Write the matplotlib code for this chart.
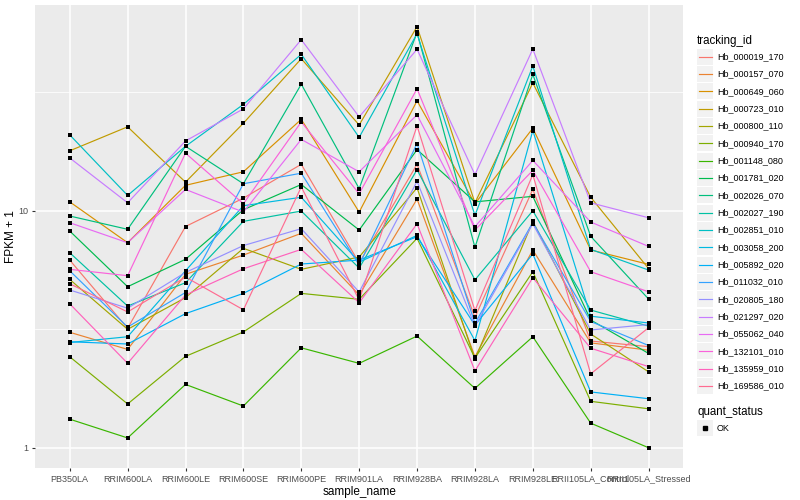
import matplotlib
matplotlib.use('Agg')
import matplotlib.pyplot as plt
from matplotlib.patches import Rectangle
import numpy as np

plt.rcParams['font.family'] = ['Liberation Sans', 'DejaVu Sans']

samples = ['PB350LA', 'RRIM600LA', 'RRIM600LE', 'RRIM600SE', 'RRIM600PE', 'RRIM901LA',
           'RRIM928BA', 'RRIM928LA', 'RRIM928LE', 'RRII105LA_Control', 'RRII105LA_Stressed']

tracking_ids = ['Hb_000019_170', 'Hb_000157_070', 'Hb_000649_060', 'Hb_000723_010',
                'Hb_000800_110', 'Hb_000940_170', 'Hb_001148_080', 'Hb_001781_020',
                'Hb_002026_070', 'Hb_002027_190', 'Hb_002851_010', 'Hb_003058_200',
                'Hb_005892_020', 'Hb_011032_010', 'Hb_020805_180', 'Hb_021297_020',
                'Hb_055062_040', 'Hb_132101_010', 'Hb_135959_010', 'Hb_169586_010']

# FPKM + 1, one row per tracking_id, columns follow samples
fpkm = [
    [6.19, 3.19, 8.58, 11.3, 15.7, 6.02, 15.7, 3.55, 12.3, 2.82, 2.67],   # 000019_170
    [3.07, 2.60, 5.39, 6.50, 8.03, 4.41, 11.2, 2.42, 6.83, 2.77, 2.58],   # 000157_070
    [10.9, 7.33, 12.8, 14.6, 24.3, 9.87, 29.1, 10.7, 22.3, 6.83, 5.94],   # 000649_060
    [17.9, 22.6, 13.2, 23.4, 43.8, 23.0, 59.8, 10.8, 34.6, 11.4, 5.70],   # 000723_010
    [5.13, 3.16, 4.30, 6.94, 5.66, 6.38, 12.5, 2.36, 9.02, 3.02, 2.09],   # 000800_110
    [2.42, 1.53, 2.43, 3.08, 4.48, 4.23, 7.65, 2.39, 5.53, 1.57, 1.46],   # 000940_170
    [1.32, 1.10, 1.85, 1.50, 2.64, 2.27, 2.96, 1.78, 2.94, 1.27, 1.00],   # 001148_080
    [8.21, 4.78, 6.24, 10.1, 12.9, 8.29, 18.1, 10.9, 11.5, 3.46, 2.50],   # 001781_020
    [9.50, 8.35, 18.7, 13.0, 34.2, 12.4, 56.6, 7.01, 37.6, 7.80, 4.24],   # 002026_070
    [6.65, 3.96, 4.97, 9.02, 9.97, 5.73, 14.9, 5.11, 10.0, 3.81, 3.26],   # 002027_190
    [20.9, 11.6, 18.7, 28.1, 45.7, 20.4, 55.8, 9.56, 40.8, 6.87, 5.62],   # 002851_010
    [2.78, 2.94, 5.58, 10.5, 11.4, 6.07, 7.87, 2.83, 21.8, 3.59, 3.36],   # 003058_200
    [2.80, 2.74, 3.68, 4.48, 5.96, 6.19, 7.77, 3.29, 6.57, 1.72, 1.61],   # 005892_020
    [5.58, 3.23, 4.52, 13.0, 14.4, 5.90, 19.2, 3.35, 8.92, 3.41, 2.70],   # 011032_010
    [4.63, 3.88, 5.49, 7.13, 8.40, 4.54, 13.3, 3.26, 8.81, 3.14, 3.31],   # 020805_180
    [16.7, 10.8, 19.7, 26.9, 52.7, 24.9, 48.0, 14.2, 48.1, 10.8, 9.34],   # 021297_020
    [8.90, 7.33, 12.3, 9.87, 20.0, 14.6, 25.4, 8.56, 16.3, 8.96, 7.07],   # 055062_040
    [5.66, 5.32, 17.5, 10.7, 23.7, 11.8, 32.7, 8.29, 14.8, 5.53, 4.55],   # 132101_010
    [4.05, 2.27, 4.41, 5.69, 6.87, 4.09, 8.81, 2.11, 5.22, 2.63, 2.20],   # 135959_010
    [4.92, 3.74, 5.25, 3.82, 12.6, 4.20, 22.8, 3.79, 14.2, 2.05, 3.21],   # 169586_010
]

colors = ['#F8766D', '#EA8331', '#D89000', '#C09B00', '#A3A500', '#7CAE00', '#39B600',
          '#00BB4E', '#00BF7D', '#00C1A3', '#00BFC4', '#00BAE0', '#00B0F6', '#35A2FF',
          '#9590FF', '#C77CFF', '#E76BF3', '#FA62DB', '#FF62BC', '#FF6C91']

fig = plt.figure(figsize=(8, 5), dpi=100)
ax = fig.add_axes([0.04375, 0.0634, 0.8104, 0.9266])
ax.set_facecolor('#EBEBEB')

x = np.arange(len(samples))
for vals, col in zip(fpkm, colors):
    ax.plot(x, vals, color=col, lw=0.85, zorder=2)
for vals in fpkm:
    ax.scatter(x, vals, marker='s', s=7, color='black', zorder=3, linewidths=0)

ax.set_yscale('log')
ax.set_ylim(0.819, 73.8)
ax.set_xlim(-0.6, len(samples) - 0.4)
ax.set_yticks([1, 10])
ax.set_yticklabels(['1', '10'])
ax.set_yticks([10 ** 0.5, 10 ** 1.5], minor=True)
ax.yaxis.set_minor_formatter(matplotlib.ticker.NullFormatter())
ax.set_xticks(x)
ax.set_xticklabels(samples)

ax.grid(True, which='major', color='white', lw=1.1, zorder=0)
ax.grid(True, which='minor', axis='y', color='white', lw=0.55, zorder=0)
ax.set_axisbelow(True)
for s in ax.spines.values():
    s.set_visible(False)
ax.tick_params(axis='both', which='major', length=2.5, color='#333333',
               labelsize=6.5, labelcolor='#4D4D4D', pad=2)
ax.tick_params(axis='y', which='minor', length=0)
ax.set_xlabel('sample_name', fontsize=8.5, labelpad=2)
ax.set_ylabel('FPKM + 1', fontsize=8.5, labelpad=1)

# ggplot-style legends drawn on an overlay in pixel units
lax = fig.add_axes([0, 0, 1, 1])
lax.set_xlim(0, 800)
lax.set_ylim(500, 0)
lax.axis('off')
key_bg = '#F2F2F2'
kx, kw, pitch = 697, 16, 17.33

lax.text(kx, 40.7, 'tracking_id', fontsize=8.3, va='center', ha='left')
for i, (lab, col) in enumerate(zip(tracking_ids, colors)):
    yc = 56.7 + i * pitch
    lax.add_patch(Rectangle((kx, yc - kw / 2), kw, kw, facecolor=key_bg, edgecolor='none'))
    lax.plot([kx + 1.5, kx + kw - 1.5], [yc, yc], color=col, lw=0.85)
    lax.text(kx + kw + 4, yc, lab, fontsize=6.5, va='center', ha='left')

lax.text(kx, 411.7, 'quant_status', fontsize=8.3, va='center', ha='left')
yc = 428.3
lax.add_patch(Rectangle((kx, yc - kw / 2), kw, kw, facecolor=key_bg, edgecolor='none'))
lax.plot([kx + kw / 2], [yc], marker='s', markersize=2.6, color='black', lw=0)
lax.text(kx + kw + 4, yc, 'OK', fontsize=6.5, va='center', ha='left')

fig.savefig('out.png', dpi=100)
